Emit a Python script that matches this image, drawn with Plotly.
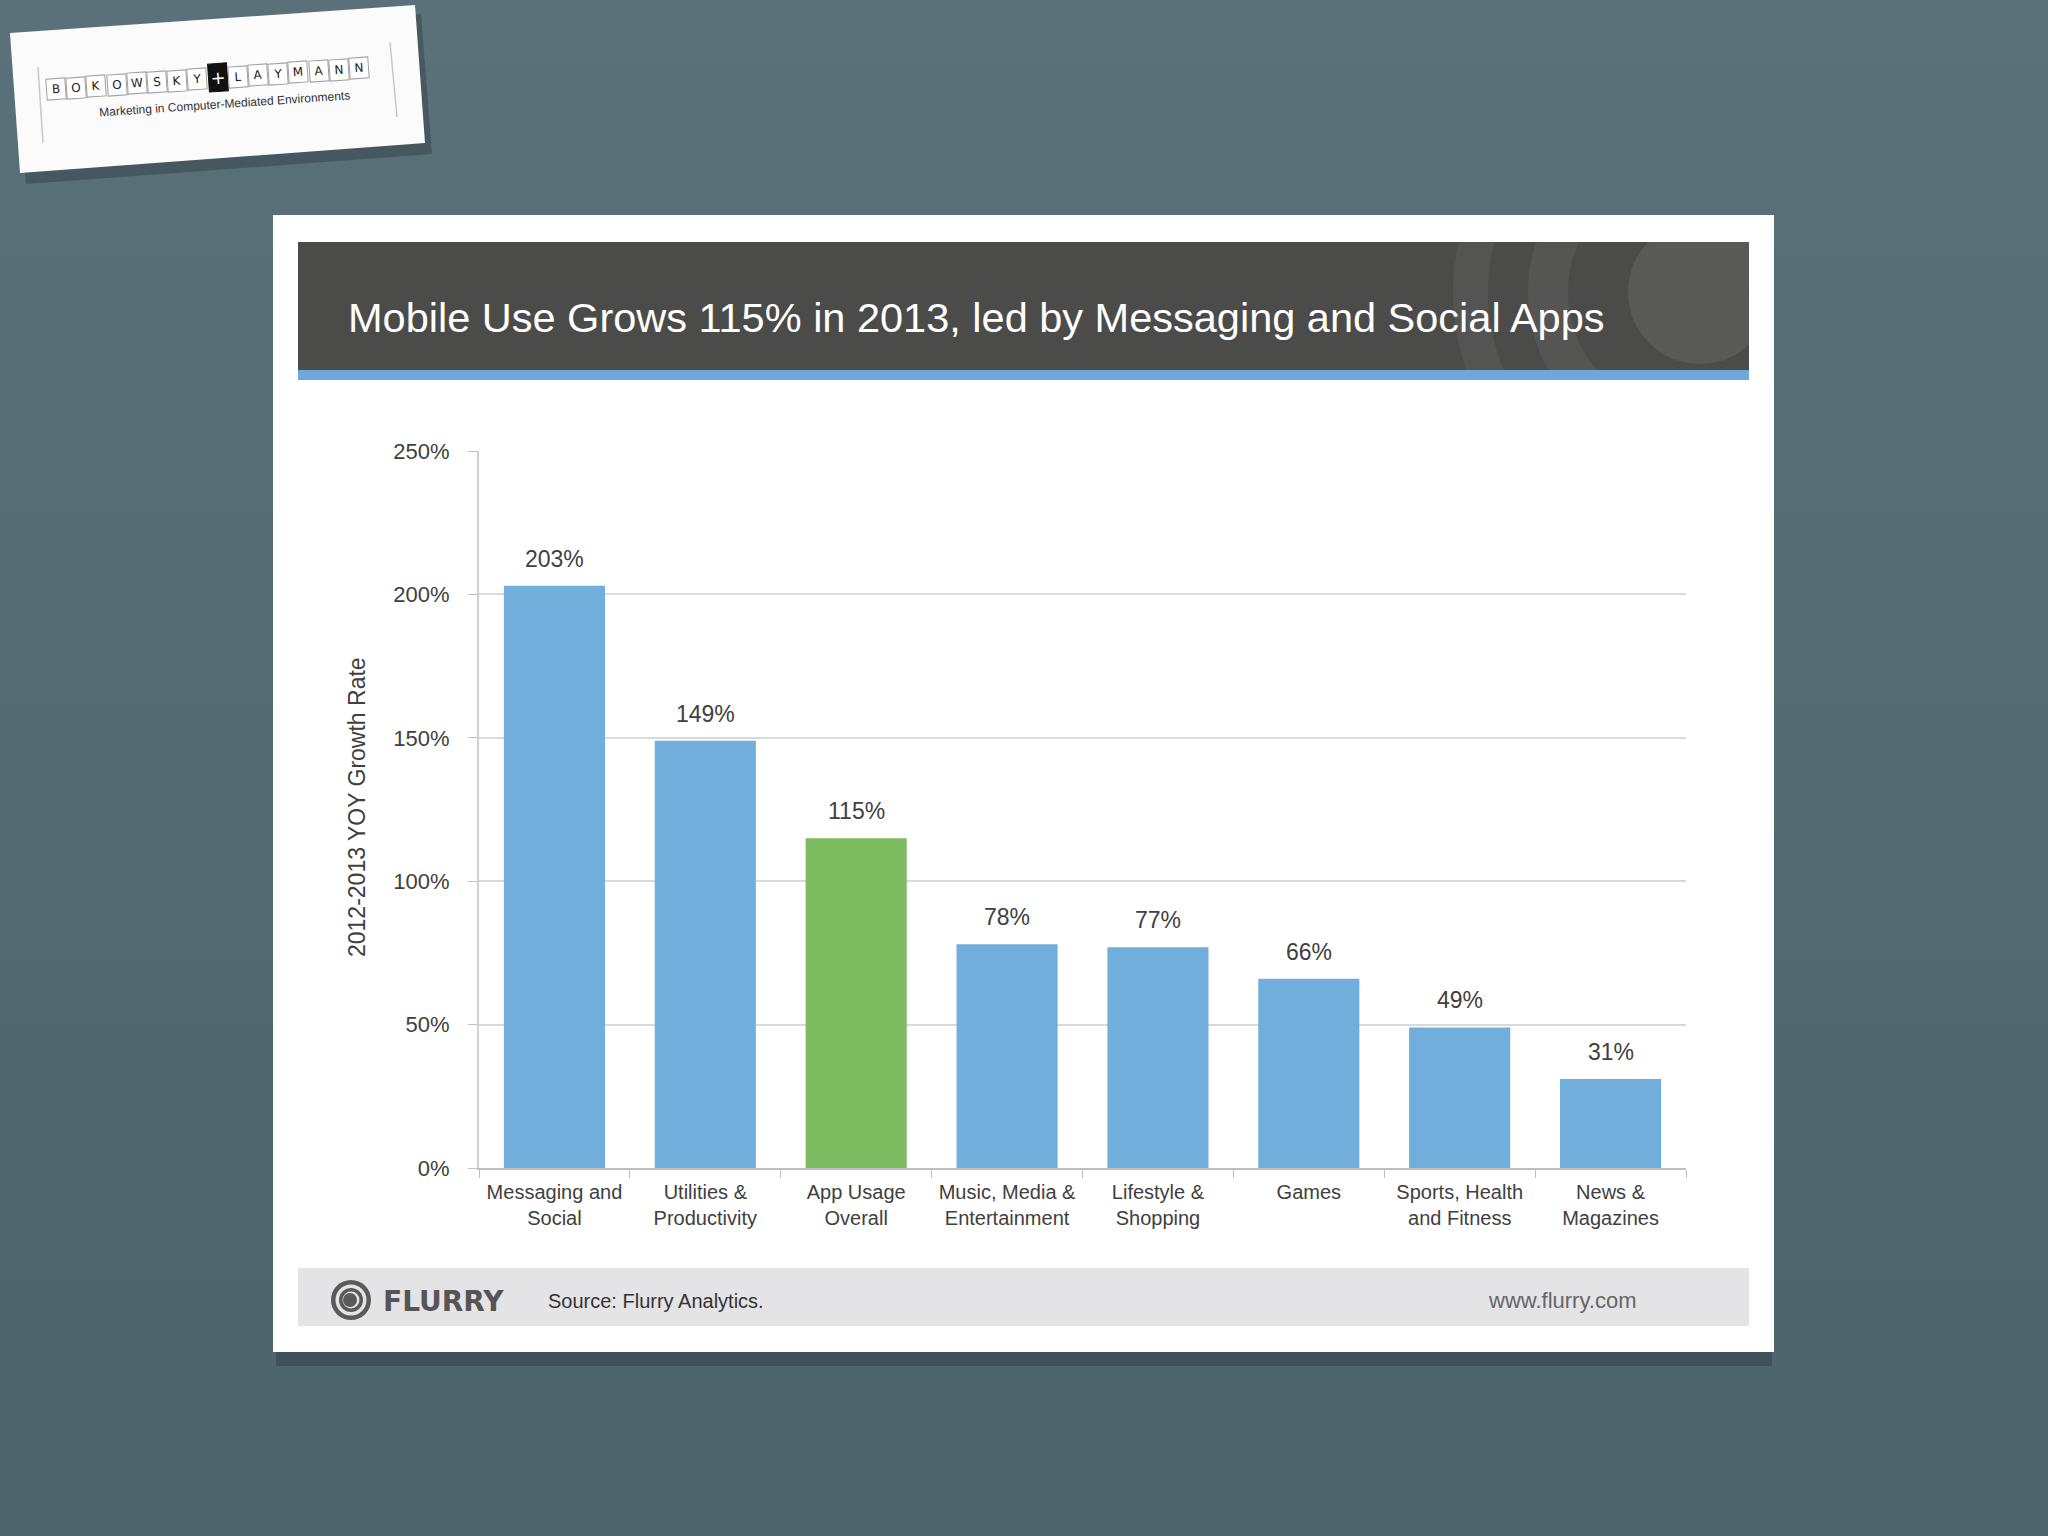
import numpy as np
import plotly.graph_objects as go

W, H = 2048, 1536

categories = ["Messaging and<br>Social", "Utilities &<br>Productivity", "App Usage<br>Overall",
              "Music, Media &<br>Entertainment", "Lifestyle &<br>Shopping", "Games",
              "Sports, Health<br>and Fitness", "News &<br>Magazines"]
growth = [203, 149, 115, 78, 77, 66, 49, 31]
bar_colors = ["#71aedc", "#71aedc", "#7cbb5f", "#71aedc", "#71aedc", "#71aedc", "#71aedc", "#71aedc"]
y_ticks = [0, 50, 100, 150, 200, 250]
y_tick_text = ["0%", "50%", "100%", "150%", "200%", "250%"]

title_text = "Mobile Use Grows 115% in 2013, led by Messaging and Social Apps"
y_title = "2012-2013 YOY Growth Rate"
source_text = "Source: Flurry Analytics."
url_text = "www.flurry.com"
logo_letters = ["B", "O", "K", "O", "W", "S", "K", "Y", "+", "L", "A", "Y", "M", "A", "N", "N"]
logo_sub = "Marketing in Computer-Mediated Environments"

SANS = "Liberation Sans, Arial, sans-serif"
BG = "#52696f"


def px(x):
    return x / W


def py(y):
    return 1 - y / H


def rect(x0, y0, x1, y1, color):
    return dict(type="rect", xref="paper", yref="paper", x0=px(x0), x1=px(x1), y0=py(y1), y1=py(y0),
                fillcolor=color, line=dict(width=0), layer="below")


def path_from(points, color):
    d = "M " + " L ".join(f"{px(x):.5f},{py(y):.5f}" for x, y in points) + " Z"
    return dict(type="path", xref="paper", yref="paper", path=d, fillcolor=color,
                line=dict(width=0), layer="below")


def ring(cx, cy, r0, r1, clip, color):
    t = np.linspace(0, 2 * np.pi, 160)
    outer = np.c_[cx + r1 * np.cos(t), cy + r1 * np.sin(t)]
    if r0 > 0:
        inner = np.c_[cx + r0 * np.cos(t[::-1]), cy + r0 * np.sin(t[::-1])]
        pts = np.vstack([outer, inner])
    else:
        pts = outer
    pts[:, 0] = np.clip(pts[:, 0], clip[0], clip[2])
    pts[:, 1] = np.clip(pts[:, 1], clip[1], clip[3])
    return path_from(pts.tolist(), color)


def note(text, x, y, size, color, family=SANS, xanchor="center", **kw):
    return dict(text=text, x=px(x), y=py(y), xref="paper", yref="paper", xanchor=xanchor,
                yanchor="middle", showarrow=False, font=dict(family=family, size=size, color=color), **kw)


fig = go.Figure()
fig.add_trace(go.Bar(
    x=categories, y=growth, marker=dict(color=bar_colors, line=dict(width=0)),
    width=0.67, hoverinfo="x+y",
))

shapes = []
# background: gentle vertical shading, lighter at the top
top_c = np.array([0x5a, 0x71, 0x79])
bot_c = np.array([0x4d, 0x64, 0x6d])
nb = 24
for i in range(nb):
    c = top_c + (bot_c - top_c) * i / (nb - 1)
    shapes.append(rect(0, H * i / nb - 1, W, H * (i + 1) / nb + 1, "rgb(%d,%d,%d)" % tuple(c.astype(int))))
# logo card with shadow
shapes.append(path_from([(16, 44), (421, 14), (432, 154), (26, 184)], "rgba(25,35,40,0.30)"))
shapes.append(path_from([(10, 33), (415, 5), (425, 143), (20, 173)], "#fbfbfb"))
shapes.append(dict(type="line", xref="paper", yref="paper", x0=px(38), y0=py(67), x1=px(43), y1=py(143),
                   line=dict(color="#c8c8c8", width=1.5)))
shapes.append(dict(type="line", xref="paper", yref="paper", x0=px(390), y0=py(42), x1=px(397), y1=py(117),
                   line=dict(color="#c8c8c8", width=1.5)))
# chart card with soft bottom shadow
shapes.append(rect(276, 1340, 1772, 1366, "rgba(25,35,40,0.28)"))
shapes.append(rect(273, 215, 1774, 1352, "#ffffff"))
# header band with watermark rings
hdr = (298, 242, 1749, 370)
shapes.append(rect(*hdr, "#4b4c4a"))
shapes.append(ring(1688, 292, 200, 235, hdr, "rgba(255,255,255,0.05)"))
shapes.append(ring(1688, 292, 120, 160, hdr, "rgba(255,255,255,0.06)"))
shapes.append(ring(1700, 292, 0, 72, hdr, "rgba(255,255,255,0.08)"))
shapes.append(rect(298, 370, 1749, 380, "#6fa7da"))
# footer band
shapes.append(rect(298, 1268, 1749, 1326, "#e4e3e5"))
for r, c in [(20, "#5a5a5a"), (15.5, "#e4e3e5"), (12, "#5a5a5a"), (8.5, "#e4e3e5")]:
    shapes.append(dict(type="circle", xref="paper", yref="paper", x0=px(351 - r), x1=px(351 + r),
                       y0=py(1300 + r), y1=py(1300 - r), fillcolor=c, line=dict(width=0)))
shapes.append(dict(type="circle", xref="paper", yref="paper", x0=px(350 - 7), x1=px(350 + 7),
                   y0=py(1300 + 7), y1=py(1300 - 7), fillcolor="#5a5a5a", line=dict(width=0)))

annotations = [
    note(title_text, 346, 317, 41.5, "#ffffff", xanchor="left"),
    note(y_title, 357, 807, 23, "#404040", textangle=-90),
    note("<b>FLURRY</b>", 381, 1301, 28, "#555555", family="DejaVu Sans, sans-serif", xanchor="left"),
    note(source_text, 546, 1301, 20, "#333333", xanchor="left"),
    note(url_text, 1639, 1300, 22, "#666666", xanchor="right"),
]

# value labels above each bar, placed in data coordinates
for cat, v in zip(categories, growth):
    annotations.append(dict(text=f"{v}%", x=cat, y=v, xref="x", yref="y", xanchor="center",
                            yanchor="bottom", yshift=12, showarrow=False,
                            font=dict(family=SANS, size=23, color="#404040")))

ang = -3.9
slope = np.tan(np.radians(ang))
for i, ch in enumerate(logo_letters):
    cx = 56 + i * 20.2
    cy = 89 + (cx - 56) * slope
    plus = ch == "+"
    annotations.append(dict(
        text=ch, x=px(cx), y=py(cy), xref="paper", yref="paper", xanchor="center", yanchor="middle",
        showarrow=False, textangle=ang, width=18, height=20 if not plus else 27, align="center",
        valign="middle", bgcolor="#111111" if plus else "#ffffff",
        bordercolor="#111111" if plus else "#a0a0a0", borderwidth=1, borderpad=0,
        font=dict(family="DejaVu Sans, sans-serif", size=12 if not plus else 18,
                  color="#ffffff" if plus else "#222222"),
    ))
annotations.append(note(logo_sub, 224, 104, 12, "#333333", textangle=ang))

fig.update_layout(
    width=W, height=H, margin=dict(l=0, r=0, t=0, b=0, pad=0, autoexpand=False), autosize=False,
    paper_bgcolor=BG, plot_bgcolor="rgba(0,0,0,0)",
    showlegend=False, shapes=shapes, annotations=annotations,
    xaxis=dict(domain=[px(479), px(1686)], type="category", showgrid=False, ticks="outside",
               tickson="boundaries", ticklen=8, tickcolor="#bfbfbf", showline=True, linecolor="#bfbfbf",
               linewidth=2, tickangle=0, tickfont=dict(family=SANS, size=20, color="#404040"),
               ticklabelstandoff=5, fixedrange=True, automargin=False),
    yaxis=dict(domain=[1 - 1168 / H, 1 - 451 / H], range=[0, 250], tickvals=y_ticks, ticktext=y_tick_text,
               showgrid=True, gridcolor="#d9d9d9", gridwidth=2, zeroline=False, showline=True,
               linecolor="#d0d0d0", linewidth=2, ticks="outside", ticklen=9, tickcolor="#bfbfbf",
               tickfont=dict(family=SANS, size=22, color="#404040"), ticklabelstandoff=14,
               fixedrange=True, automargin=False),
    bargap=0.33,
)

css_js = (
    "var d=document.documentElement,b=document.body;"
    "d.style.margin='0';d.style.padding='0';d.style.overflow='hidden';"
    "b.style.margin='0';b.style.padding='0';b.style.overflow='hidden';"
    "b.style.background='" + BG + "';"
)
fig.write_html("out.html", config={"displayModeBar": False}, post_script=css_js)
